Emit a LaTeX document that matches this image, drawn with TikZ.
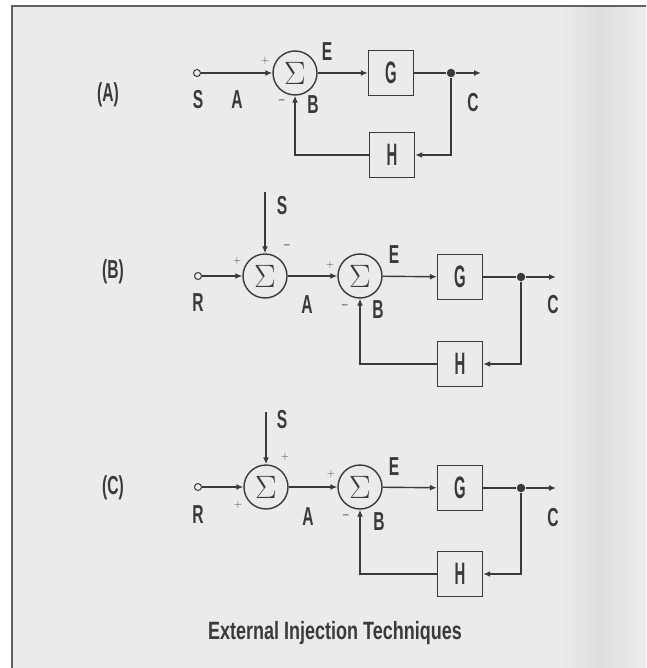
\documentclass[tikz,border=0pt]{standalone}
\usepackage{fontspec}
\usepackage{graphicx}
\usetikzlibrary{arrows.meta}
\newfontfamily\labfont[FakeStretch=0.6]{Liberation Sans Bold}
\newfontfamily\blkfont[FakeStretch=0.48]{Liberation Sans Bold}
\newfontfamily\ttlfont[FakeStretch=0.72]{Liberation Sans Bold}
\definecolor{bgc}{HTML}{EBEBEB}
\definecolor{ink}{HTML}{3A3A3A}
\definecolor{shadowc}{HTML}{DEDEDE}
\newcommand{\bigsig}{\scalebox{1.3}{$\Sigma$}}
\begin{document}
\begin{tikzpicture}[x=1pt,y=-1pt,
  line width=1.4pt, draw=ink,
  >={Latex[length=7pt,width=6pt]},
  lab/.style={text=ink,font=\labfont\fontsize{26}{26}\selectfont,inner sep=0pt},
  sgn/.style={text=ink,font=\sffamily\fontsize{11}{11}\selectfont,inner sep=0pt},
  sumc/.style={draw=ink,circle,minimum size=44pt,inner sep=0pt,text=ink,font=\fontsize{24}{24}\selectfont},
  blk/.style={draw=ink,minimum width=45pt,minimum height=45pt,inner sep=0pt,text=ink,font=\blkfont\fontsize{31}{31}\selectfont},
  term/.style={draw=ink,circle,minimum size=7pt,inner sep=0pt,line width=1pt,fill=bgc},
  dotc/.style={fill=ink,circle,minimum size=8.5pt,inner sep=0pt},
  conn/.style={->}]
\useasboundingbox (0,0) rectangle (646,668);
\fill[white] (0,0) rectangle (646,668);
\fill[bgc] (12,6) rectangle (646,668);
\shade[left color=bgc,right color=bgc,middle color=shadowc,shading angle=90] (560,8) rectangle (640,668);
\draw[line width=2pt,draw=ink!80] (12,668) -- (12,6) -- (646,6);

% ---------- (A) ----------
\node[lab] (labA) at (108,95) {(A)};
\node[term] (sA) at (197,73) {};
\node[sumc] (s1A) at (295,73) {\bigsig};
\node[blk] (gA) at (391,73) {G};
\node[dotc] (jA) at (451,73) {};
\coordinate (oA) at (481,73);
\node[blk] (hA) at (392,155) {H};
\draw[conn] (sA) -- (s1A);
\draw[conn] (s1A) -- (gA);
\draw (gA) -- (jA);
\draw[conn] (jA) -- (oA);
\draw[conn] (jA) |- (hA);
\draw[conn] (hA) -| (s1A);
\node[lab] (tSA) at (198,100) {S};
\node[lab] (tAA) at (237,100) {A};
\node[sgn] (pA) at (265,61) {+};
\node[sgn] (mA) at (282,102) {\textbf{--}};
\node[lab] (tBA) at (313,105) {B};
\node[lab] (tEA) at (327,52) {E};
\node[lab] (tCA) at (473,103) {C};

% ---------- (B) ----------
\node[lab] (labB) at (113,272) {(B)};
\node[term] (rB) at (198,276) {};
\node[sumc] (s1B) at (265,276) {\bigsig};
\coordinate (sinB) at (265,192);
\node[sumc] (s2B) at (360,276) {\bigsig};
\node[blk] (gB) at (460,277) {G};
\node[dotc] (jB) at (521,277) {};
\coordinate (oB) at (556,277);
\node[blk] (hB) at (460,364) {H};
\draw[conn] (rB) -- (s1B);
\draw[conn] (sinB) -- (s1B);
\draw[conn] (s1B) -- (s2B);
\draw[conn] (s2B) -- (gB);
\draw (gB) -- (jB);
\draw[conn] (jB) -- (oB);
\draw[conn] (jB) |- (hB);
\draw[conn] (hB) -| (s2B);
\node[lab] (tSB) at (282,206) {S};
\node[sgn] (mB1) at (287,247) {\textbf{--}};
\node[sgn] (pB1) at (237,261) {+};
\node[lab] (tRB) at (198,303) {R};
\node[lab] (tAB) at (307,305) {A};
\node[sgn] (pB2) at (330,265) {+};
\node[sgn] (mB2) at (345,307) {\textbf{--}};
\node[lab] (tBB) at (378,310) {B};
\node[lab] (tEB) at (394,255) {E};
\node[lab] (tCB) at (553,305) {C};

% ---------- (C) ----------
\node[lab] (labC) at (113,488) {(C)};
\node[term] (rC) at (198,487) {};
\node[sumc] (s1C) at (266,487) {\bigsig};
\coordinate (sinC) at (266,412);
\node[sumc] (s2C) at (360,487) {\bigsig};
\node[blk] (gC) at (460,488) {G};
\node[dotc] (jC) at (521,488) {};
\coordinate (oC) at (556,488);
\node[blk] (hC) at (460,574) {H};
\draw[conn] (rC) -- (s1C);
\draw[conn] (sinC) -- (s1C);
\draw[conn] (s1C) -- (s2C);
\draw[conn] (s2C) -- (gC);
\draw (gC) -- (jC);
\draw[conn] (jC) -- (oC);
\draw[conn] (jC) |- (hC);
\draw[conn] (hC) -| (s2C);
\node[lab] (tSC) at (282,420) {S};
\node[sgn] (pC1) at (285,457) {+};
\node[sgn] (pC3) at (238,505) {+};
\node[lab] (tRC) at (198,515) {R};
\node[lab] (tAC) at (308,517) {A};
\node[sgn] (pC2) at (331,474) {+};
\node[sgn] (mC2) at (346,517) {\textbf{--}};
\node[lab] (tBC) at (379,522) {B};
\node[lab] (tEC) at (394,467) {E};
\node[lab] (tCC) at (553,518) {C};

% ---------- title ----------
\node[text=ink,font=\ttlfont\fontsize{25}{25}\selectfont,inner sep=0pt] (title) at (335,633) {External Injection Techniques};
\end{tikzpicture}
\end{document}
